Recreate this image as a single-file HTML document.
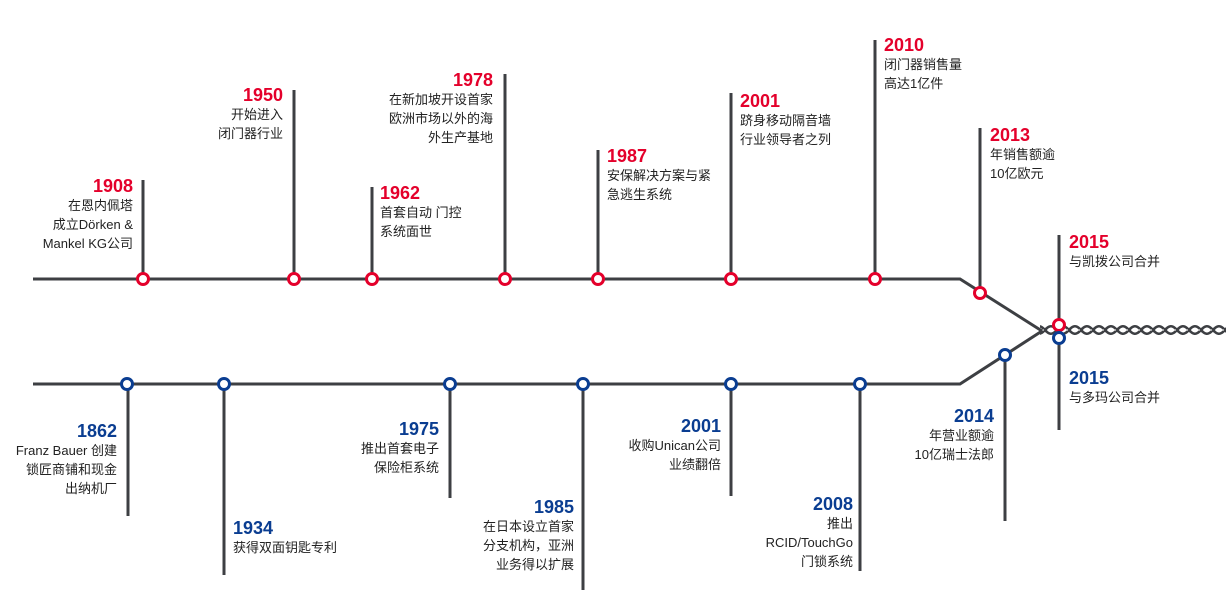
<!DOCTYPE html>
<html><head><meta charset="utf-8"><style>
html,body{margin:0;padding:0;background:#fff;}
#c{position:relative;width:1226px;height:602px;overflow:hidden;font-family:"Liberation Sans","Noto Sans CJK SC",sans-serif;}
svg{position:absolute;left:0;top:0;}
.t{position:absolute;font-size:13px;line-height:19px;color:#222;white-space:nowrap;}
.t b{display:block;font-size:18px;line-height:20px;font-weight:bold;}
.r b{color:#e4002b;}
.u b{color:#0a3d91;}
.ra{text-align:right;}
</style></head><body><div id="c">
<svg width="1226" height="602">
<defs><pattern id="rope" x="0" y="322" width="12" height="16" patternUnits="userSpaceOnUse">
<path d="M0 10 C4 3,8 3,12 7" stroke="#3d3f43" stroke-width="2.5" fill="none"/>
<path d="M0 6 C4 13,8 13,12 9" stroke="#3d3f43" stroke-width="2.5" fill="none"/>
</pattern></defs>
<g stroke="#3d3f43" stroke-width="3" fill="none">
<polyline points="33,279 960,279 1042,331"/>
<polyline points="33,384 960,384 1042,331"/>
<line x1="143" y1="180" x2="143" y2="279"/>
<line x1="294" y1="90" x2="294" y2="279"/>
<line x1="372" y1="187" x2="372" y2="279"/>
<line x1="505" y1="74" x2="505" y2="279"/>
<line x1="598" y1="150" x2="598" y2="279"/>
<line x1="731" y1="93" x2="731" y2="279"/>
<line x1="875" y1="40" x2="875" y2="279"/>
<line x1="980" y1="128" x2="980" y2="293"/>
<line x1="1059" y1="235" x2="1059" y2="430"/>
<line x1="128" y1="384" x2="128" y2="516"/>
<line x1="224" y1="384" x2="224" y2="575"/>
<line x1="450" y1="384" x2="450" y2="498"/>
<line x1="583" y1="384" x2="583" y2="590"/>
<line x1="731" y1="384" x2="731" y2="496"/>
<line x1="860" y1="384" x2="860" y2="571"/>
<line x1="1005" y1="354" x2="1005" y2="521"/>
</g>
<rect x="1040" y="323" width="186" height="15" fill="url(#rope)"/>
<g fill="#fff" stroke="#e4002b" stroke-width="3">
<circle cx="143" cy="279" r="5.5"/><circle cx="294" cy="279" r="5.5"/><circle cx="372" cy="279" r="5.5"/>
<circle cx="505" cy="279" r="5.5"/><circle cx="598" cy="279" r="5.5"/><circle cx="731" cy="279" r="5.5"/>
<circle cx="875" cy="279" r="5.5"/><circle cx="980" cy="293" r="5.5"/><circle cx="1059" cy="325" r="5.5"/>
</g>
<g fill="#fff" stroke="#0a3d91" stroke-width="3">
<circle cx="127" cy="384" r="5.5"/><circle cx="224" cy="384" r="5.5"/><circle cx="450" cy="384" r="5.5"/>
<circle cx="583" cy="384" r="5.5"/><circle cx="731" cy="384" r="5.5"/><circle cx="860" cy="384" r="5.5"/>
<circle cx="1005" cy="355" r="5.5"/><circle cx="1059" cy="338" r="5.5"/>
</g>
</svg>
<div class="t r ra" style="right:1093px;top:176px"><b>1908</b>在恩内佩塔<br>成立Dörken &amp;<br>Mankel KG公司</div>
<div class="t r ra" style="right:943px;top:85px"><b>1950</b>开始进入<br>闭门器行业</div>
<div class="t r" style="left:380px;top:183px"><b>1962</b>首套自动 门控<br>系统面世</div>
<div class="t r ra" style="right:733px;top:70px"><b>1978</b>在新加坡开设首家<br>欧洲市场以外的海<br>外生产基地</div>
<div class="t r" style="left:607px;top:146px"><b>1987</b>安保解决方案与紧<br>急逃生系统</div>
<div class="t r" style="left:740px;top:91px"><b>2001</b>跻身移动隔音墙<br>行业领导者之列</div>
<div class="t r" style="left:884px;top:35px"><b>2010</b>闭门器销售量<br>高达1亿件</div>
<div class="t r" style="left:990px;top:125px"><b>2013</b>年销售额逾<br>10亿欧元</div>
<div class="t r" style="left:1069px;top:232px"><b>2015</b>与凯拨公司合并</div>
<div class="t u ra" style="right:1109px;top:421px"><b>1862</b>Franz Bauer 创建<br>锁匠商铺和现金<br>出纳机厂</div>
<div class="t u" style="left:233px;top:518px"><b>1934</b>获得双面钥匙专利</div>
<div class="t u ra" style="right:787px;top:419px"><b>1975</b>推出首套电子<br>保险柜系统</div>
<div class="t u ra" style="right:652px;top:497px"><b>1985</b>在日本设立首家<br>分支机构，亚洲<br>业务得以扩展</div>
<div class="t u ra" style="right:505px;top:416px"><b>2001</b>收购Unican公司<br>业绩翻倍</div>
<div class="t u ra" style="right:373px;top:494px"><b>2008</b>推出<br>RCID/TouchGo<br>门锁系统</div>
<div class="t u ra" style="right:232px;top:406px"><b>2014</b>年营业额逾<br>10亿瑞士法郎</div>
<div class="t u" style="left:1069px;top:368px"><b>2015</b>与多玛公司合并</div>
</div></body></html>
